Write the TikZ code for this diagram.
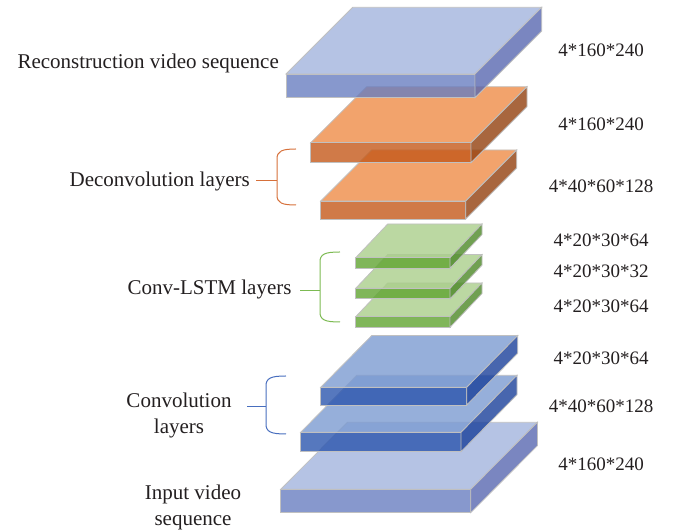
\documentclass[tikz,border=0pt]{standalone}
\usepackage{fontspec}
\setmainfont{Liberation Serif}
\definecolor{ltop}{RGB}{162,180,221}
\definecolor{lfront}{RGB}{105,126,192}
\definecolor{lside}{RGB}{89,104,176}
\definecolor{btop}{RGB}{124,155,209}
\definecolor{bfront}{RGB}{44,86,174}
\definecolor{bside}{RGB}{26,64,154}
\definecolor{otop}{RGB}{239,140,71}
\definecolor{ofront}{RGB}{196,89,26}
\definecolor{oside}{RGB}{146,64,14}
\definecolor{gtop}{RGB}{170,206,139}
\definecolor{gfront}{RGB}{96,164,49}
\definecolor{gside}{RGB}{76,136,39}
\definecolor{edgegray}{RGB}{192,192,192}
\definecolor{obrace}{RGB}{214,112,58}
\definecolor{gbrace}{RGB}{124,186,82}
\definecolor{bbrace}{RGB}{72,110,190}
\definecolor{txt}{RGB}{35,31,32}
% #1 left, #2 front-top y (px, downwards), #3 width, #4 thickness, #5 dx, #6 dy, #7 colour prefix, #8 name
\newcommand{\slabbox}[8]{%
  \coordinate (#8-fl) at ({#1},{530-#2});
  \coordinate (#8-fr) at ({#1+#3},{530-#2});
  \coordinate (#8-bl) at ({#1},{530-#2-#4});
  \coordinate (#8-br) at ({#1+#3},{530-#2-#4});
  \coordinate (#8-tl) at ({#1+#5},{530-#2+#6});
  \coordinate (#8-tr) at ({#1+#3+#5},{530-#2+#6});
  \coordinate (#8-sr) at ({#1+#3+#5},{530-#2+#6-#4});
  \filldraw[slabedge, fill=#7top] (#8-fl) -- (#8-tl) -- (#8-tr) -- (#8-fr) -- cycle;
  \filldraw[slabedge, fill=#7front] (#8-fl) rectangle (#8-br);
  \filldraw[slabedge, fill=#7side] (#8-fr) -- (#8-tr) -- (#8-sr) -- (#8-br) -- cycle;
}
% brace: #1 colour, #2 vertical x, #3 end x, #4 top y, #5 bottom y (px)
\newcommand{\layerbrace}[5]{%
  \draw[#1, line width=1pt] ({#3},{530-#4}) .. controls ({#2+5},{530-#4}) and ({#2},{530-#4-2}) .. ({#2},{530-#4-10})
     -- ({#2},{530-#5+10}) .. controls ({#2},{530-#5+2}) and ({#2+5},{530-#5}) .. ({#3},{530-#5});
}
\begin{document}
\begin{tikzpicture}[x=1pt,y=1pt,
  slabedge/.style={draw=edgegray, line width=0.8pt, fill opacity=0.8},
  lbl/.style={text=txt, inner sep=0pt, font=\fontsize{21}{26}\selectfont},
  dim/.style={text=txt, inner sep=0pt, anchor=center, font=\fontsize{19}{23}\selectfont}]
\useasboundingbox (0,0) rectangle (673,530);

% slabs, from bottom to top
\slabbox{280.7}{489.3}{190}{23.4}{66.7}{67}{l}{inp}
\slabbox{300.7}{432.3}{160.3}{19.4}{56}{57}{b}{convb}
\slabbox{320.7}{387.3}{146}{17.7}{51}{51.7}{b}{conva}
\slabbox{355.7}{316.7}{94.3}{10.6}{32}{33.7}{g}{lstmc}
\slabbox{355.7}{288.3}{94.3}{10.6}{32}{33.7}{g}{lstmb}
\slabbox{355.7}{257.7}{94.3}{10.6}{32}{33.7}{g}{lstma}
\slabbox{320.7}{201}{145}{18}{51}{51}{o}{decb}
\slabbox{310.7}{142.7}{160.3}{20}{56}{56}{o}{deca}
\slabbox{286}{74}{189}{23.7}{66.7}{66.7}{l}{rec}

% left labels
\node[lbl, anchor=base east] (recl) at (279,461.7) {Reconstruction video sequence};
\node[lbl, anchor=base east] (decl) at (250,343.3) {Deconvolution layers};
\node[lbl, anchor=base east] (lstml) at (291.7,235) {Conv-LSTM layers};
\node[lbl, anchor=center, align=center] (convl) at (179,114.8) {Convolution\\layers};
\node[lbl, anchor=center, align=center] (inpl) at (193,22.6) {Input video\\sequence};

% braces
\coordinate (dect) at (256,349);
\coordinate (decm) at (277,349);
\draw[obrace, line width=1pt] (dect) -- (decm);
\layerbrace{obrace}{277}{296}{149}{205}
\coordinate (lstmt) at (300,239);
\coordinate (lstmm) at (320,239);
\draw[gbrace, line width=1pt] (lstmt) -- (lstmm);
\layerbrace{gbrace}{320}{340}{252}{322}
\coordinate (convt) at (247,123.3);
\coordinate (convm) at (266,123.3);
\draw[bbrace, line width=1pt] (convt) -- (convm);
\layerbrace{bbrace}{266}{286}{376}{434}

% dimension labels
\node[dim] (d1) at (601,480) {4*160*240};
\node[dim] (d2) at (601,405.5) {4*160*240};
\node[dim] (d3) at (601,343.5) {4*40*60*128};
\node[dim] (d4) at (601,290) {4*20*30*64};
\node[dim] (d5) at (601,258.5) {4*20*30*32};
\node[dim] (d6) at (601,223.5) {4*20*30*64};
\node[dim] (d7) at (601,171.5) {4*20*30*64};
\node[dim] (d8) at (601,123.5) {4*40*60*128};
\node[dim] (d9) at (601,66) {4*160*240};
\end{tikzpicture}
\end{document}
